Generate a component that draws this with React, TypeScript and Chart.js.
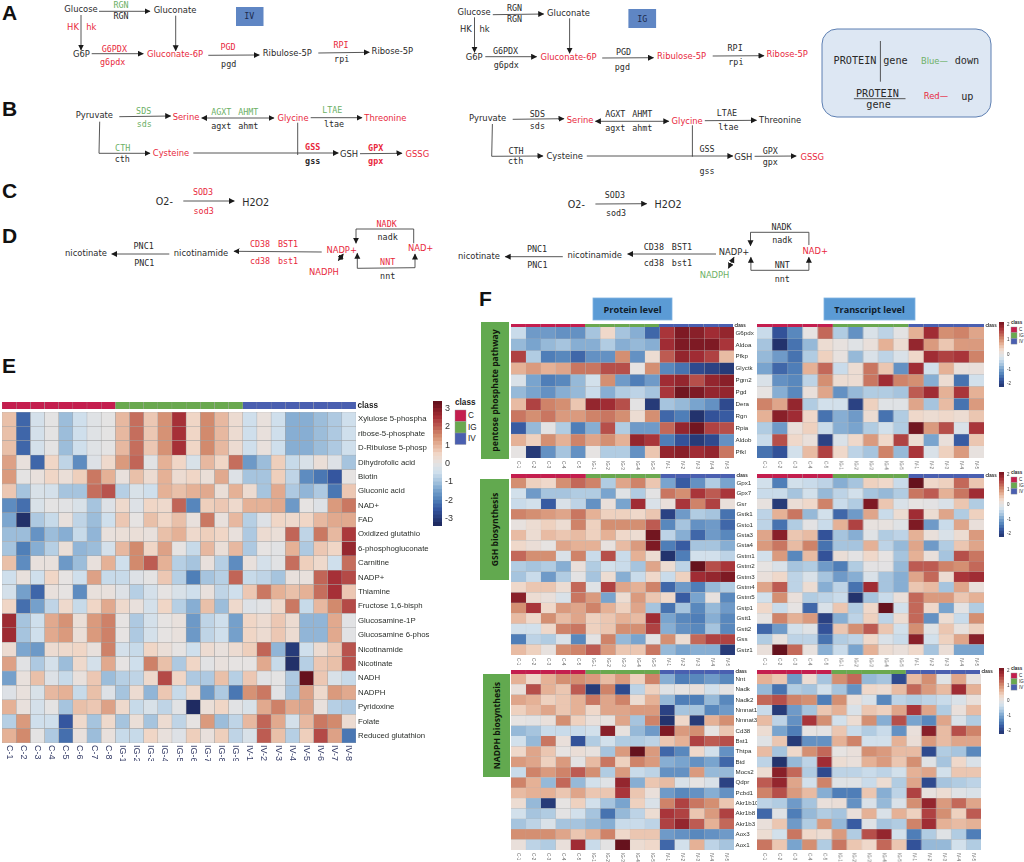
import React, { useEffect, useRef } from "react";
import { Chart, registerables } from "chart.js";
Chart.register(...registerables);

// ---------- data ----------
const samplesE = ["C-1","C-2","C-3","C-4","C-5","C-6","C-7","C-8","IG-1","IG-2","IG-3","IG-4","IG-5","IG-6","IG-7","IG-8","IG-9","IV-1","IV-2","IV-3","IV-4","IV-5","IV-6","IV-7","IV-8"];
const samplesF = ["C-1","C-2","C-3","C-4","C-5","IG-1","IG-2","IG-3","IG-4","IG-5","IV-1","IV-2","IV-3","IV-4","IV-5"];
const rowsE = ["Xylulose 5-phospha","ribose-5-phosphate","D-Ribulose 5-phosp","Dihydrofolic acid","Biotin","Gluconic acid","NAD+","FAD","Oxidized glutathio","6-phosphogluconate","Carnitine","NADP+","Thiamine","Fructose 1,6-bisph","Glucosamine-1P","Glucosamine 6-phos","Nicotinamide","Nicotinate","NADH","NADPH","Pyridoxine","Folate","Reduced glutathion"];
const rowsPPP = ["G6pdx","Aldoa","Pfkp","Glyctk","Pgm2","Pgd","Dera","Rgn","Rpia","Aldob","Pfkl"];
const rowsGSH = ["Gpx1","Gpx7","Gsr","Gstk1","Gsto1","Gsta3","Gsta4","Gstm1","Gstm2","Gstm3","Gstm4","Gstm5","Gstp1","Gstt1","Gstt2","Gss","Gstz1"];
const rowsNADPH = ["Nnt","Nadk","Nadk2","Nmnat1","Nmnat3","Cd38","Bst1","Thtpa","Btd","Mocs2","Qdpr","Pcbd1","Akr1b10","Akr1b8","Akr1b3","Aox3","Aox1"];

const valuesE = [
[.8,-2.3,-.4,-.05,-1.1,-.5,-.15,-.05,.9,1.8,.7,1.4,2.5,.5,1.5,.9,.3,-.5,.1,-.5,-1.3,-1.3,-1.1,-.9,-.5],
[.8,-2.3,-.4,-.05,-1.1,-.5,-.15,-.05,.9,1.8,.7,1.4,2.5,.5,1.5,.9,.3,-.5,.1,-.5,-1.3,-1.3,-1.1,-.9,-.5],
[.8,-2.3,-.4,-.05,-1.1,-.5,-.15,-.05,.9,1.8,.7,1.4,2.5,.5,1.5,.9,.3,-.5,.1,-.5,-1.3,-1.3,-1.1,-.9,-.5],
[1.2,.1,-2.3,.5,-.7,-1.8,-.2,.4,1.3,1.9,-.1,1,.5,-.3,.9,.5,1.8,-1.6,-1.1,.6,-.6,-.3,.2,-.2,-1],
[1.3,-.05,.1,.5,.2,.6,1.7,1,.1,.8,.3,1,.3,.5,.2,1.1,-.2,-1,-1,.6,-.7,-1.8,-2.1,-2.5,0],
[.7,-1,-.3,-.4,-1,-1,1.8,2.1,-.8,-.3,-.5,1,.8,1,1.1,.2,1,.3,-1,1.1,-.9,-1.2,-.9,-2.1,.7],
[-1.8,-2.2,-.3,-.05,-.1,-.3,-1,-.2,.4,-.2,.5,.4,1.9,-1.9,.6,.7,.4,1,1,1.1,-1.6,0,-.2,1.3,1.7],
[-1.4,-3.2,-.9,-.6,.1,-.7,-1.1,-.5,.7,0,.8,.5,.8,.1,1.7,.1,.9,-.8,-.2,.5,.4,.5,.9,1.1,1.1],
[-1.1,-1.1,-1.7,-1.1,-1.3,-.6,-1.2,.1,.2,.2,.1,.8,1,.4,.6,.5,.1,-.9,.3,.2,1.9,-.7,1.7,.9,2.4],
[-1,-2,-1.3,-.8,.2,-1.2,-1.1,-.4,.9,1.5,.5,1.2,0,-.6,.9,.2,.9,-.9,0,-.1,1,-.9,.7,.5,2.7],
[.8,-1.8,.1,.1,-1.6,-1.1,.1,1,-.5,1.5,2,1,-.8,-1,.1,-.8,-1.8,.1,-.4,-.1,1.8,.6,.4,-.5,1.8],
[-.5,.1,-.5,.5,0,-.5,1.2,-.6,-.6,-.2,-.05,.7,-.8,-2,-1,-.8,1.9,-.6,-.7,-1,.1,.1,1.9,2.5,2.2],
[-.4,-1.5,-2.3,.1,0,-1.8,.1,.1,-.2,-.8,-.4,0,-.3,-.5,.1,-.7,-.5,.7,1.7,1,.8,1,1.8,2.5,.7],
[.5,-2.2,-1.5,-.7,.4,-.6,.5,1.1,.4,.1,-.4,.5,-.8,-1.3,.8,-1.1,.4,-.2,-.1,.4,1.7,-.6,.9,1.5,2.2],
[2.6,-1,-.5,1.1,1.4,.2,1.3,1.6,0,-.9,-.4,0,.1,-1.6,-.7,-.5,-1.5,.5,.3,.7,.3,-1.2,-1.2,1.1,-.1],
[2.6,-1,-.5,1.1,1.3,.2,1.3,1.6,0,-.9,-.4,0,.1,-1.6,-.7,-.5,-1.5,.5,.3,.7,.3,-1.2,-1.2,1.1,-.1],
[.3,-1.4,-1.6,.3,.4,.5,.1,1.6,-.4,-.6,.5,.2,0,-.5,.3,.1,.3,.6,1.9,-1.2,-3,-.5,.3,.7,2.1],
[1.2,-.1,-.9,-.4,-1.1,.4,-.4,1.1,0,-.5,1.6,.8,-.9,.5,-.1,.1,0,0,1.1,-.6,-3.2,-.8,.7,.8,2.1],
[-1.5,.1,.8,-.2,-.6,.1,.7,-1.1,-.8,-.7,.4,2.2,.5,-.9,-.9,.8,-.8,.7,-.1,-.05,-.9,3.3,.7,-.3,-.6],
[-.2,.1,-.3,.9,1,-.6,.8,-.2,-1,.3,-1.2,.7,-.6,.4,-1.6,-.9,-2.1,1.4,1.7,-.1,-1,1.2,.4,1.3,1.1],
[1,.1,-.4,-.05,-1,.8,.7,1.2,.4,-.6,-.3,-.7,-.1,-3.3,.2,.5,-.1,-.3,1.1,1.6,1.1,1.2,.1,-.8,-.9],
[-.8,1.3,-.5,-.5,-2.5,.4,-1,.4,-1,.2,-1,.3,-.7,0,1.3,-1.1,-.7,.9,1.9,1.1,-.4,.9,1.7,1.5,.3],
[1,1.5,-.05,-.9,-2.2,.1,-1.1,.1,-.6,-.6,.5,.1,-.2,.6,.1,.6,-.7,-.3,2,.8,-.8,.6,2.2,1.2,-2.1],
];
const proteinPPP = [
[-.4,-1.1,-1.1,-1.2,-1.2,-.7,.3,-.7,-.9,-1.6,1.7,2.1,2,1.8,1.9],
[-.8,-1,-.8,-.7,-.9,-.9,-.6,-.9,-.8,-.9,1.8,2.1,2.1,2.1,1.7],
[1.6,-.6,-1.4,-1.3,-1.6,-1.2,-1.2,1,-1.2,.2,1.4,1.9,1.8,1.6,.6],
[.7,.9,.7,.8,1.2,1.2,1.5,1.5,0,1,-1.3,-1.5,-1.9,-2,-2.1],
[-.2,-1,-1.4,-1.3,-.8,-.3,1,-1.1,-1.4,-1.1,1.8,1.9,1.5,1.9,2],
[-.8,-1,-1.2,-.9,-.8,-.4,-.9,-.6,-.5,-.7,1.7,2.2,2.1,1.9,1.9],
[.6,1.6,1.1,1,.5,1.9,1.8,1.5,-.05,-2.1,-.7,-.8,-1,-1.2,-1.9],
[1.2,1,1.2,.9,.9,1.1,1.2,1,.2,1,-1.6,-1.4,-2.2,-1.8,-1.7],
[-1.7,-.8,-.05,-.6,-1.4,-.9,1.5,-.6,-1.1,-1.1,1.3,1.9,2.2,1.6,1.5],
[.7,.4,1,.7,1.1,.8,1,.7,1.9,1.7,-1.4,-1.8,-2.1,-1.9,-1.2],
[0,-2.1,-1.2,-.7,-1.2,0,-.6,-.6,-1.2,.5,1.9,2,1.8,1.9,1.2],
];
const transcriptPPP = [
[-.4,-1.8,-1.3,0,1.3,-.6,-1.2,-.2,-.5,-.05,.7,1.8,1,1.1,.8],
[-.7,-2.2,-1.5,-.8,.2,.05,-.1,.1,.7,.2,1.9,.9,.5,.9,.9],
[-.8,-1.1,-1.5,-.6,.4,.05,-.8,-.2,-.5,-.2,.3,1.8,1.6,1.7,1.1],
[-1,-1.6,-1.4,.7,1.3,-.4,.2,1.2,.5,-1.2,1.8,-.3,.7,.1,.1],
[-.2,-1.2,-1.3,-.5,1,.2,.2,1.2,1.8,1.1,1,-.9,.2,-1.5,-.3],
[0,-.9,-1.3,.1,.8,-1.2,-.8,-.6,-.6,-.7,1.4,1.8,.7,1.7,.7],
[1.1,.8,1.9,-.6,-.3,-.3,-2,.4,-.1,-.1,.8,-.7,.6,-1.5,.9],
[.7,2,1.8,.3,-1.5,-.9,-1.1,.2,-1.5,-.6,.3,.2,.3,.2,.5],
[-.6,-1.1,.1,.4,-.4,-.9,-1,-.6,-.3,-.6,2.2,.9,1.5,-.2,1.7],
[-.4,1.5,.3,.1,-2,-.2,.3,.9,.3,1.6,.2,-1,.1,-1.7,.5],
[-1.5,-1.8,-.3,.6,1.6,.3,-.5,-.7,1.1,-.8,1.7,-.2,.4,.9,.05],
];
const proteinGSH = [
[1,.4,.3,1,1.3,1.1,-.6,.8,1.1,.5,-1,-1.7,-1.2,-.6,-1],
[-.3,-1.1,-.7,-.7,-.6,-.6,-1,-.1,-.6,-.05,1.2,1,1.7,1.4,1.7],
[-.4,-.3,-1.7,-.2,-.5,-1.2,.1,-1,1.8,-.2,.1,1.7,1.1,1.6,.1],
[1.1,1,.9,.8,1.2,.7,.4,.4,.3,.5,-2,-1.1,-.6,-.7,-1.5],
[.05,.2,.4,.2,1.1,.4,1,1,1,1.4,-1.3,-.7,-1.2,-1.1,-1.6],
[.6,.2,.6,.5,.6,.4,.7,.3,.2,2.2,-.5,-.9,-1.6,-1.1,-1.3],
[.3,.15,0,.8,.7,.7,.05,.6,.9,2.1,-1.4,-1.7,-.7,-.7,-.9],
[1.3,1,1,-.2,1.1,-.4,1.5,-.4,.7,.2,-2.2,-1.4,-.3,-.3,-.5],
[-.6,-.7,-.6,-.9,.1,-.6,-.3,-.4,-.7,.8,.2,-.5,2.3,1.5,1.7],
[-.7,-.4,-1.1,-.6,-.05,-.7,.2,-.9,-.4,.3,-.4,.4,1.8,1.9,2.1],
[.3,.5,.5,.2,1.3,-.1,1.6,.8,.7,1.1,-1.6,-1.1,-1.4,-.8,-.6],
[2,.2,.1,-.2,1.2,.9,-1,.2,.9,.5,.3,-1.7,-1,.05,-1.3],
[1,1.7,.3,.9,.8,1.1,.7,.4,.8,-.7,-1.5,-.7,-1.3,-.8,-1.1],
[.6,.3,1,.6,.8,.4,.5,.7,.6,1.8,-1,-1.3,-1.4,-.9,-1.3],
[-.3,-.3,.3,1.1,1.2,.4,.5,1,1,1.6,-.9,-1.2,-1.3,-.7,-1.3],
[-1.4,-.5,-.6,-.2,-1.3,-.05,1.1,-.8,-1,-.05,1,.2,1.3,1.6,1.6],
[.6,.4,.05,1,1.1,1.4,.9,.5,.5,1.2,-.8,-1,-.9,-.9,-2.1],
];
const transcriptGSH = [
[-.3,-1.4,-.3,-.4,-.5,-.9,-.7,.4,.3,-.4,2.3,.3,.4,1.3,.5],
[-.4,-.4,-.7,-.3,-.8,-.5,-.3,-.7,-.8,-.6,1.2,1.4,.7,1.2,1.8],
[.05,-2.1,.15,.3,1.1,-.4,-.6,2.1,.5,-.2,0,-.05,-.2,.5,-.6],
[-.5,.7,1.2,-.8,-.3,-1.6,-1.1,.8,-.4,.2,1.8,.2,.8,-.6,.4],
[-.5,-1.5,-.6,-.05,-.4,.7,1.6,.05,.05,-.1,2.1,-1.1,-.4,.8,.1],
[.8,2,.5,.6,-1.8,-.7,-.9,-.1,-.6,-.5,.7,.1,-.2,.2,.9],
[.9,1.2,.6,1.1,-1.5,-.7,-.7,.7,-.5,-.8,.8,-1.1,-.6,.5,.8],
[-.3,.9,-1.3,.6,-1.8,.15,-.05,.3,0,-.7,.7,.1,-.7,1.5,1.2],
[0,-.2,-.7,-.6,-1.1,-1.4,-.6,-.05,-.05,-.8,1.4,1.4,1.1,1,1.3],
[.1,.3,-.5,-.2,-.7,-1.1,-.9,-.2,-.7,-.9,.8,1.3,.2,1.7,1.8],
[.8,1.4,-.5,.2,-.9,-.5,-1.5,1.8,-.7,-.9,.5,.6,-.7,.8,.1],
[-.3,1,.1,-.6,-.5,-.4,-2.2,-.7,-.4,.1,1.3,.9,.9,.5,.7],
[.3,-.4,0,-1.6,-.2,.5,-.6,.3,2.3,-.3,1.3,.3,-1,-.05,-.6],
[0,1.1,.7,.9,-2,-.9,-.5,.4,-.5,.2,1.3,-1.2,.2,-.4,1],
[-1.6,-1.1,-.3,-.1,-1.8,.5,1,1.4,.5,-.3,1,-.1,.5,.05,.4],
[-.6,.05,-.5,-.5,-1.5,-.6,-.5,.3,-.2,-.4,2,-.3,.4,.8,2],
[.1,2.3,1.3,.05,-.9,-.4,-1,.7,.2,.1,.3,-.7,.15,-1,-1],
];
const proteinNADPH = [
[.7,.3,.7,1,1,.9,.6,.9,.4,1.1,-.9,-1.4,-1.3,-1.1,-1.3],
[.1,1.5,.7,.5,1.4,-2.1,1.1,-1.9,-.5,.4,-.1,0,.1,-.3,-.05],
[.8,.7,.4,.5,.7,1.2,.8,1.1,.2,.7,-.8,-1.4,-1.4,-.8,-1.3],
[.4,.6,.8,.5,.7,.3,.8,.8,.9,.9,-2,-.7,-.7,-1.3,-1.1],
[0,-.05,.1,1,.4,.1,.05,.8,-.7,1.1,-2.2,.3,-2.1,.7,1],
[-.8,-.7,-.4,-.4,-.4,-.3,2,.05,-.8,-1.1,2.1,.9,1,0,.5],
[-.3,-.8,1.2,.1,-1.8,-.6,-.3,-.6,-.6,-.5,.5,.7,1.6,1.4,1.5],
[.3,.8,.5,0,.15,.05,-.7,.9,2.3,.9,-1.6,-1.3,.3,-.3,-1.2],
[.9,.8,.4,.9,-.05,.6,1.2,.4,1.1,.9,-.9,-1,-1.2,-1,-1.6],
[-.4,1.1,.9,1.1,1.4,1,-.6,.9,-.4,-.5,-1.2,-1.2,.9,-.8,-.8],
[1.1,.7,-.8,1.3,-.8,-.3,-.1,1.9,-.9,.5,.6,-.2,0,-.2,-2],
[.6,.7,.7,.5,.8,.5,.5,1.7,.5,.1,-1.1,-1.3,-1.2,-.9,-1.2],
[.2,-.8,-2.1,0,.4,-.3,-.7,-1,.4,-.2,1.1,1.6,1.2,1,.5],
[-.3,-.7,-.6,-.05,-.3,-.7,-1.5,-.8,-.5,.2,1.7,1.6,.5,.9,1.6],
[-.7,-.5,-.2,-.7,-.7,-.8,-.9,-.4,-.4,-.5,1.6,1.9,1.4,.7,1.3],
[1,1,1,.8,.5,.7,1.1,.3,.5,.5,-1.1,-1.2,-1.3,-1.2,-1.1],
[.1,-.5,-.6,.1,1.8,-.4,-.05,2.3,.2,.3,-1.6,-.3,.7,-.5,-.7],
];
const transcriptNADPH = [
[.7,.5,-1.1,.2,-.7,1,1.3,-.8,-.7,-1.9,.6,1,-.1,.8,.05],
[-.8,-1.5,-.6,-.7,-.3,-.7,-1.2,.3,.2,.6,1.3,.9,.6,1.8,.7],
[1.3,1.5,1.1,1,-1.4,1,.1,-.2,-1.3,-.5,-.6,-.5,-.4,-.2,.1],
[-.4,-2.1,-1.1,-.7,.5,.7,-.2,.5,.4,.8,1.7,.8,-.6,.1,.6],
[.6,-.5,-1.2,1.7,1,-.3,.2,1,-.9,1.5,-1,-1.3,.8,-.2,-.6],
[.2,-1,-1.4,0,-.05,.5,-.4,-.6,-.4,-1.2,.1,2,.6,1.5,1.1],
[-.1,.5,-2.1,-1.2,-1.2,.7,1.1,-.3,-.3,.7,.15,.9,.6,.8,.8],
[.6,-.7,.3,1,1.3,0,.1,1,.9,.6,.6,-1.9,-.6,-.7,-1.3],
[-.5,-2.2,-.8,-.5,1.8,.2,.1,.7,.9,.5,1,-.1,-.7,.3,-.2],
[.2,2,1.3,-.6,-1.9,-.5,-.5,-.4,-.5,-.3,.7,.8,-.3,.5,.5],
[1.4,1.9,.8,-.3,1.1,-.1,-.1,-.4,.2,-.6,.8,-1.9,-.7,-.6,-.5],
[1.1,1.5,.9,.6,-.9,-1.4,-1.4,.5,-.9,-.5,1.6,.05,.2,-.1,-.2],
[-.5,-.6,-1.1,-.7,.1,.15,-1.2,-.2,-.8,-.2,1,1.9,.9,1.3,.8],
[-1.6,-.1,-1.4,-.8,-.6,-.7,.1,.7,-.2,.7,.4,1.6,1,.4,1.4],
[.1,.5,-1.1,-.6,.9,-.8,-1.7,-.1,-.7,-.6,1.1,1.8,.7,.6,.7],
[.2,-.3,1.2,.3,.2,.9,-.6,1.5,1.9,-.3,-1.4,-.6,-.1,-.6,-1.4],
[1.2,.5,-1,1,-.6,1.2,.5,.3,1.3,.5,-1.8,-.8,-.8,-.3,-.6],
];
const colorbarEdgesE = [-3.4,-3.2,-3,-2.8,-2.6,-2.4,-2.2,-2,-1.8,-1.6,-1.4,-1.2,-1,-.8,-.6,-.4,-.2,0,.2,.4,.6,.8,1,1.2,1.4,1.6,1.8,2,2.2,2.4,2.6,2.8,3,3.2,3.4];
const colorbarEdgesF = [-2.2,-2,-1.8,-1.6,-1.4,-1.2,-1,-.8,-.6,-.4,-.2,0,.2,.4,.6,.8,1,1.2,1.4,1.6,1.8,2,2.2];
const classNames = ["C","IG","IV"];

// ---------- colours ----------
const classColour: Record<string,string> = { C:"#c41e4e", IG:"#6aa84f", IV:"#4a5fb0" };
const stops: [number,number[]][] = [
 [-3.4,[28,38,90]],[-2.5,[53,86,159]],[-2,[79,127,184]],[-1.4,[124,166,207]],[-1,[166,196,222]],[-.5,[207,223,236]],
 [0,[230,227,226]],[.5,[240,214,198]],[1,[229,177,150]],[1.5,[210,138,109]],[2,[189,92,82]],[2.5,[166,48,55]],[3,[127,26,36]],[3.4,[93,15,26]],
];
function colour(v:number){
  const x=Math.max(-3.4,Math.min(3.4,v));
  for(let i=1;i<stops.length;i++){
    if(x<=stops[i][0]){
      const [a,ca]=stops[i-1],[b,cb]=stops[i];
      const t=(x-a)/(b-a);
      return `rgb(${ca.map((c,k)=>Math.round(c+(cb[k]-c)*t)).join(",")})`;
    }
  }
  return "rgb(93,15,26)";
}
const K_F = 3.3/2.3;

function fixFit(width?:number,height?:number){
  return (s:any)=>{
    if(width!==undefined) s.width=width;
    if(height!==undefined) s.height=height;
    s.paddingTop=0;s.paddingBottom=0;s.paddingLeft=0;s.paddingRight=0;
  };
}
const noGrid={display:false,drawTicks:false};
const downTicks = (font:string,colorT:string,gap:number)=>({
  id:"downTicks",
  afterDraw(chart:any){
    const s=chart.scales.xt; if(!s) return;
    const c=chart.ctx; c.save(); c.font=font; c.fillStyle=colorT; c.textAlign="left"; c.textBaseline="middle";
    s.ticks.forEach((t:any,i:number)=>{
      c.save(); c.translate(s.getPixelForTick(i),chart.chartArea.bottom+gap); c.rotate(Math.PI/2); c.fillText(t.label,0,0); c.restore();
    });
    c.restore();
  }
});

function heatConfig(rows:string[],samples:string[],m:number[][],k:number,o:any){
  return {
    type:"bar",
    data:{labels:rows,datasets:samples.map((s,j)=>({label:s,data:rows.map(()=>1),backgroundColor:rows.map((_,i)=>colour(m[i][j]*k)),borderColor:o.grid,borderWidth:o.bw,borderSkipped:false,barPercentage:1,categoryPercentage:1}))},
    options:{
      indexAxis:"y",animation:false,responsive:false,layout:{padding:0},
      plugins:{legend:{display:false},tooltip:{enabled:false}},
      scales:{
        x:{type:"linear",stacked:true,min:0,max:samples.length,display:false},
        y:{type:"category",stacked:true,offset:true,position:"right",grid:noGrid,border:{display:false},
           ticks:{display:o.showRows,autoSkip:false,font:{family:"Liberation Sans",size:o.rowSize},color:"#2b2f2b",padding:o.rowPad},afterFit:fixFit(o.labelW)},
        xt:{type:"category",axis:"x",labels:samples,offset:true,position:"bottom",grid:noGrid,border:{display:false},
           ticks:{display:false,autoSkip:false},afterFit:fixFit(undefined,o.tickH)},
      },
    },
    plugins:[downTicks(o.tickFont,o.tickColour,o.tickGap)],
  };
}
function stripConfig(samples:string[],o:any){
  return {
    type:"bar",
    data:{labels:["class"],datasets:samples.map(s=>({label:s,data:[1],backgroundColor:classColour[s.split("-")[0]],borderColor:"#a8a8a8",borderWidth:o.bw,borderSkipped:false,barPercentage:1,categoryPercentage:1}))},
    options:{
      indexAxis:"y",animation:false,responsive:false,layout:{padding:{top:o.pad,bottom:o.pad}},
      plugins:{legend:{display:false},tooltip:{enabled:false}},
      scales:{
        x:{type:"linear",stacked:true,min:0,max:samples.length,display:false},
        y:{type:"category",stacked:true,offset:true,position:"right",grid:noGrid,border:{display:false},
           ticks:{font:{family:"Liberation Sans",size:o.size,weight:"bold"},color:"#222",padding:1.5},afterFit:fixFit(o.labelW)},
      },
    },
  };
}
function barConfig(edges:number[],k:number,size:number,labelW:number){
  return {
    type:"bar",
    data:{labels:[""],datasets:edges.slice(1).map((e,i)=>({data:[[edges[i],e]],backgroundColor:colour((edges[i]+e)/2*k),borderWidth:0,grouped:false,barPercentage:1,categoryPercentage:1}))},
    options:{
      animation:false,responsive:false,layout:{padding:0},
      plugins:{legend:{display:false},tooltip:{enabled:false}},
      scales:{
        x:{display:false},
        y:{type:"linear",min:edges[0],max:edges[edges.length-1],position:"right",grid:noGrid,border:{display:false},
           ticks:{stepSize:1,includeBounds:false,font:{family:"Liberation Sans",size},color:"#333",padding:3},afterFit:fixFit(labelW)},
      },
    },
  };
}

function C({left,top,width,height,config}:any){
  const ref=useRef<HTMLCanvasElement>(null);
  useEffect(()=>{
    const ch=new Chart(ref.current as any,config);
    return ()=>ch.destroy();
  },[]);
  return <canvas ref={ref} width={width} height={height} style={{position:"absolute",left,top,width,height}}/>;
}

// ---------- pathway diagrams (annotation layout, in crop units) ----------
type T=[number,number,string,string];
const leftTexts:T[]=[
["243","27","Glucose","k"],["363","14","RGN","gm"],["363","49","RGN","km"],["525","31","Gluconate","k"],["748","48","IV","dm"],
["219","81","HK","r"],["274","81","hk","r"],["244","163","G6P","k"],["343","146","G6PDX","rm"],["338","186","g6pdx","rm"],["525","162","Gluconate-6P","r"],
["684","140","PGD","rm"],["686","193","pgd","km"],["862","159","Ribulose-5P","k"],["1023","135","RPI","rm"],["1025","177","rpi","km"],["1177","153","Ribose-5P","k"],
["283","345","Pyruvate","k"],["431","333","SDS","gm"],["433","371","sds","gm"],["558","351","Serine","r"],["664","336","AGXT","gm"],["745","336","AHMT","gm"],["664","378","agxt","km"],["745","378","ahmt","km"],
["879","354","Glycine","r"],["997","329","LTAE","gm"],["1002","372","ltae","km"],["1156","353","Threonine","r"],
["368","444","CTH","gm"],["367","476","cth","km"],["513","459","Cysteine","r"],["938","440","GSS","rmb"],["938","483","gss","kmb"],["1047","462","GSH","k"],["1127","444","GPX","rmb"],["1127","483","gpx","rmb"],["1252","462","GSSG","r"],
["493","605","O2-","kL"],["609","576","SOD3","rm"],["611","632","sod3","rm"],["767","606","H2O2","kL"],
["258","760","nicotinate","k"],["431","738","PNC1","km"],["433","789","PNC1","km"],["603","759","nicotinamide","k"],["780","733","CD38","rm"],["864","733","BST1","rm"],["780","783","cd38","rm"],["864","783","bst1","rm"],
["1025","750","NADP+","r"],["972","816","NADPH","r"],["1160","672","NADK","rm"],["1163","711","nadk","km"],["1262","744","NAD+","r"],["1163","787","NNT","rm"],["1163","828","nnt","km"],
].map(a=>[+a[0],+a[1],a[2],a[3]] as T);
const rightTexts:T[]=[
["91","35","Glucose","k"],["199","23","RGN","km"],["199","58","RGN","km"],["343","39","Gluconate","k"],["540","56","IG","dm"],["69","88","HK","k"],["119","88","hk","k"],["91","170","G6P","k"],
["175","152","G6PDX","km"],["177","194","g6pdx","km"],["343","170","Gluconate-6P","r"],["490","155","PGD","km"],["487","201","pgd","km"],["645","167","Ribulose-5P","r"],["788","143","RPI","km"],["790","185","rpi","km"],["927","161","Ribose-5P","r"],
["127","353","Pyruvate","k"],["260","341","SDS","km"],["260","379","sds","km"],["374","359","Serine","r"],["468","343","AGXT","km"],["540","343","AHMT","km"],["468","385","agxt","km"],["540","385","ahmt","km"],["660","362","Glycine","r"],["766","338","LTAE","km"],["770","381","ltae","km"],["908","361","Threonine","k"],
["203","452","CTH","km"],["202","484","cth","km"],["333","467","Cysteine","k"],["713","448","GSS","km"],["713","514","gss","km"],["810","470","GSH","k"],["882","452","GPX","km"],["882","486","gpx","km"],["994","470","GSSG","r"],
["364","612","O2-","kL"],["467","584","SOD3","km"],["470","640","sod3","km"],["609","614","H2O2","kL"],
["104","767","nicotinate","k"],["259","746","PNC1","km"],["260","796","PNC1","km"],["413","766","nicotinamide","k"],["571","742","CD38","km"],["646","742","BST1","km"],["571","789","cd38","km"],["646","789","bst1","km"],
["785","757","NADP+","k"],["733","826","NADPH","g"],["912","680","NADK","km"],["914","720","nadk","km"],["1002","753","NAD+","r"],["914","795","NNT","km"],["914","836","nnt","km"],
["1108","180","PROTEIN","kM"],["1216","180","gene","kM"],["1320","184","Blue\u2014","g"],["1407","181","down","kM"],["1168","280","PROTEIN","kM"],["1171","314","gene","kM"],["1324","287","Red\u2014","r"],["1408","288","up","kM"],
].map(a=>[+a[0],+a[1],a[2],a[3]] as T);
// [points..., heads: 0 none, 1 end, 2 both]
const leftPaths:[number[],number][]=[
[[297,34,450,34],1],[[243,45,243,150],1],[[527,47,527,152],1],[[275,161,430,161],1],[[625,166,778,165],1],[[955,159,1108,157],1],
[[358,350,512,348],1],[[605,354,822,354],2],[[932,353,1086,353],1],[[299,365,297,460,450,460],1],[[580,459,1015,459],1],[[893,368,893,465],0],[[1080,461,1206,460],1],
[[550,603,703,603],1],[[508,762,335,762],1],[[965,756,702,754],1],[[1015,782,1030,762],2],[[1241,730,1241,687,1068,687,1068,730],1],[[1072,805,1245,803],0],[[1072,805,1072,760],1],[[1245,803,1245,762],1],
];
const rightPaths:[number[],number][]=[
[[141,44,277,42],1],[[92,52,92,157],1],[[346,55,346,160],1],[[121,170,258,170],1],[[433,174,570,173],1],[[728,168,865,167],1],
[[194,358,331,356],1],[[415,364,611,364],2],[[707,362,845,361],1],[[140,372,138,469,275,468],1],[[392,468,782,468],1],[[674,376,674,470],0],[[840,469,951,468],1],
[[415,612,552,611],1],[[328,770,174,770],1],[[737,762,501,762],1],[[770,805,785,772],2],[[985,735,985,697,829,697,829,737],1],[[830,811,985,811],0],[[830,811,830,772],1],[[985,811,985,772],1],
[[1176,123,1176,245],0],[[1105,296,1243,296],0],
];
const colours:Record<string,string>={k:"#2a2a2a",r:"#e8283c",g:"#6cb066",d:"#1d2b4d"};
function Panel({texts,paths,sx,sy,ox}:any){
  return <g>
    {paths.map(([p,h]:any,i:number)=>(
      <polyline key={"p"+i} points={p.map((v:number,j:number)=>(j%2?v*sy:ox+v*sx).toFixed(1)).join(" ")} fill="none" stroke="#444" strokeWidth={0.9}
        markerEnd={h?"url(#ah)":undefined} markerStart={h===2?"url(#ah)":undefined}/>
    ))}
    {texts.map(([x,y,t,st]:T,i:number)=>{
      const mono=st.includes("m")||st.includes("M");
      const size=st.includes("M")?10.2:st.includes("L")?9.6:8.4;
      return <text key={i} x={ox+x*sx} y={y*sy} fill={colours[st[0]]} textAnchor="middle" dominantBaseline="central"
        fontFamily={mono?"DejaVu Sans Mono":"DejaVu Sans"} fontSize={size} fontWeight={st.includes("b")?"bold":"normal"}>{t}</text>;
    })}
  </g>;
}
function Legend({x,y,size,gap,font}:any){
  return <g>
    <text x={x} y={y-gap*0.45} fontFamily="Liberation Sans" fontWeight="bold" fontSize={font} fill="#222">class</text>
    {classNames.map((n,i)=><g key={n}>
      <rect x={x} y={y+i*gap} width={size} height={gap} fill={classColour[n]} stroke="#999" strokeWidth={0.4}/>
      <text x={x+size+2} y={y+i*gap+gap/2} dominantBaseline="central" fontFamily="Liberation Sans" fontSize={font} fill="#222">{n}</text>
    </g>)}
  </g>;
}
function Box({x,y,w,h,t,size}:any){
  return <g><rect x={x} y={y} width={w} height={h} fill="#5b9bd5" stroke="#7fb2e0" strokeWidth={0.8}/>
    <text x={x+w/2} y={y+h/2} textAnchor="middle" dominantBaseline="central" fontFamily="Open Sans" fontWeight="bold" fontSize={size} fill="#10202c">{t}</text></g>;
}
function Side({x,y,w,h,t}:any){
  const cx=x+w/2,cy=y+h/2;
  return <g><rect x={x} y={y} width={w} height={h} fill="#62a94f"/>
    <text x={cx} y={cy} transform={`rotate(-90 ${cx} ${cy})`} textAnchor="middle" dominantBaseline="central" fontFamily="Open Sans" fontWeight="bold" fontSize={8.6} fill="#10180c">{t}</text></g>;
}
function Letter({x,y,t}:any){
  return <text x={x} y={y} fontFamily="Liberation Sans" fontWeight="bold" fontSize={21} fill="#111" dominantBaseline="central">{t}</text>;
}

const optE={grid:"#a3a3a3",bw:0.5,showRows:true,rowSize:7.8,rowPad:2,labelW:75,tickH:18,tickFont:"9px 'Liberation Sans'",tickColour:"#39406a",tickGap:2};
const optP={grid:"#b5b5b5",bw:0.3,showRows:true,rowSize:6.2,rowPad:1.5,labelW:28,tickH:12,tickFont:"4.5px 'Liberation Sans'",tickColour:"#666",tickGap:3};
const optT={...optP,showRows:false,labelW:0};
const stripE={bw:0.4,pad:5,size:8.2,labelW:30}, stripF={bw:0.3,pad:4,size:4.5,labelW:16};

export default function App(){
  return <div style={{position:"absolute",left:0,top:0,width:1024,height:862,overflow:"hidden",background:"#fff"}}>
    <svg width={1024} height={862} style={{position:"absolute",left:0,top:0}}>
      <defs>
        <marker id="ah" markerUnits="userSpaceOnUse" markerWidth={7} markerHeight={7} refX={5.5} refY={3} orient="auto-start-reverse">
          <path d="M0,0 L6,3 L0,6 z" fill="#1a1a1a"/>
        </marker>
      </defs>
      <rect x={236} y={7} width={27.5} height={19} fill="#5f86c4"/>
      <rect x={628.4} y={9} width={27.7} height={19} fill="#5f86c4"/>
      <rect x={822} y={29} width={169} height={88} rx={15} fill="#dde7f3" stroke="#5d7fb2" strokeWidth={1}/>
      <Panel texts={leftTexts} paths={leftPaths} sx={1/3} sy={1/3} ox={0}/>
      <Panel texts={rightTexts} paths={rightPaths} sx={1/2.67} sy={1/3} ox={440}/>
      <Letter x={2} y={12} t="A"/><Letter x={2} y={108} t="B"/><Letter x={2} y={190} t="C"/><Letter x={2} y={235} t="D"/><Letter x={2} y={365} t="E"/><Letter x={479} y={298} t="F"/>
      <Box x={593} y={298} w={79} h={22} t="Protein level" size={9.2}/>
      <Box x={824} y={298} w={91} h={22} t="Transcript level" size={9.1}/>
      <Side x={481} y={322} w={28} h={137} t="pentose phosphate pathway"/>
      <Side x={480} y={479} w={29} h={101} t="GSH  biosynthesis"/>
      <Side x={483} y={674} w={27} h={103} t="NADPH biosynthesis"/>
      <Legend x={455} y={410} size={11} gap={11.5} font={8.2}/>
      <Legend x={1011} y={327} size={6} gap={5.7} font={4.5}/>
      <Legend x={1011} y={477} size={6} gap={5.7} font={4.5}/>
      <Legend x={1011} y={673} size={6} gap={5.7} font={4.5}/>
    </svg>

    <C left={2} top={397} width={384} height={17} config={stripConfig(samplesE,stripE)}/>
    <C left={2} top={411.7} width={429} height={349} config={heatConfig(rowsE,samplesE,valuesE,1,optE)}/>
    <C left={433} top={401} width={25} height={125} config={barConfig(colorbarEdgesE,1,9,16)}/>

    <C left={511} top={320} width={238} height={12} config={stripConfig(samplesF,stripF)}/>
    <C left={511} top={327.3} width={251} height={143} config={heatConfig(rowsPPP,samplesF,proteinPPP,K_F,optP)}/>
    <C left={757.3} top={320} width={243} height={12} config={stripConfig(samplesF,stripF)}/>
    <C left={757.3} top={327.3} width={226.7} height={143} config={heatConfig(rowsPPP,samplesF,transcriptPPP,K_F,optT)}/>
    <C left={999} top={322} width={13} height={65} config={barConfig(colorbarEdgesF,K_F,4.5,8)}/>

    <C left={511} top={470} width={240} height={12} config={stripConfig(samplesF,stripF)}/>
    <C left={511} top={477.7} width={252} height={189} config={heatConfig(rowsGSH,samplesF,proteinGSH,K_F,optP)}/>
    <C left={757.3} top={470} width={243} height={12} config={stripConfig(samplesF,stripF)}/>
    <C left={757.3} top={477.7} width={226.7} height={189} config={heatConfig(rowsGSH,samplesF,transcriptGSH,K_F,optT)}/>
    <C left={999} top={472} width={13} height={65} config={barConfig(colorbarEdgesF,K_F,4.5,8)}/>

    <C left={511} top={666} width={239} height={12} config={stripConfig(samplesF,stripF)}/>
    <C left={511} top={674} width={251} height={188} config={heatConfig(rowsNADPH,samplesF,proteinNADPH,K_F,optP)}/>
    <C left={757.3} top={666} width={239} height={12} config={stripConfig(samplesF,stripF)}/>
    <C left={757.3} top={674} width={223.4} height={188} config={heatConfig(rowsNADPH,samplesF,transcriptNADPH,K_F,optT)}/>
    <C left={999} top={668} width={13} height={66} config={barConfig(colorbarEdgesF,K_F,4.5,8)}/>
  </div>;
}
